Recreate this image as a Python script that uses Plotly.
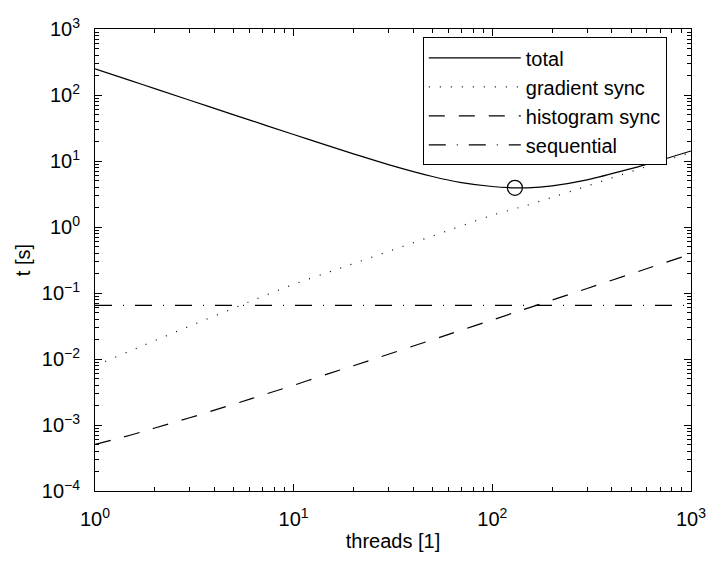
import plotly.graph_objects as go

threads = [1, 1.5, 2, 3, 5, 7, 10, 15, 20, 30, 50, 70, 100, 130, 150, 200, 300, 500, 700, 1000]
t_total = [250.1, 166.8, 125.1, 83.43, 50.13, 35.87, 25.2, 16.95, 12.85, 8.83, 5.82, 4.71, 4.11, 3.93, 3.93, 4.21, 5.19, 7.68, 10.25, 14.2]
t_gradient = [0.0079, 0.0132, 0.019, 0.0316, 0.059, 0.089, 0.135, 0.207, 0.279, 0.427, 0.731, 1.04, 1.51, 1.89, 2.14, 2.82, 4.17, 6.92, 9.55, 13.5]
t_histogram = [5.1e-4, 7.0e-4, 9.0e-4, 1.29e-3, 2.07e-3, 2.85e-3, 4.0e-3, 6.0e-3, 7.9e-3, 0.0118, 0.0196, 0.0274, 0.039, 0.0508, 0.0586, 0.078, 0.117, 0.195, 0.273, 0.39]
t_sequential = [0.065] * len(threads)

names = ["total", "gradient sync", "histogram sync", "sequential"]

x_exps = [0, 1, 2, 3]
y_exps = [-4, -3, -2, -1, 0, 1, 2, 3]

imin = min(range(len(t_total)), key=lambda i: t_total[i])

def power_labels(exps):
    return ["10<sup>%s</sup>" % (str(e).replace("-", "\u2212")) for e in exps]

font = "Liberation Sans, Arial, Helvetica, sans-serif"
fig = go.Figure()
fig.add_trace(go.Scatter(x=threads, y=t_total, mode="lines", name=names[0],
                         line=dict(color="black", width=1.2, shape="spline")))
fig.add_trace(go.Scatter(x=threads, y=t_gradient, mode="lines", name=names[1],
                         line=dict(color="black", width=1.2, dash="1px,10px", shape="spline")))
fig.add_trace(go.Scatter(x=threads, y=t_histogram, mode="lines", name=names[2],
                         line=dict(color="black", width=1.2, dash="16px,14px", shape="spline")))
fig.add_trace(go.Scatter(x=threads, y=t_sequential, mode="lines", name=names[3],
                         line=dict(color="black", width=1.2, dash="17px,11px,1px,11px")))
fig.add_trace(go.Scatter(x=[threads[imin]], y=[t_total[imin]], mode="markers", showlegend=False,
                         marker=dict(symbol="circle-open", size=15, color="black", line=dict(width=1.2))))

axis_common = dict(
    type="log", showgrid=False, zeroline=False, showline=True, linecolor="black", linewidth=1,
    ticks="inside", ticklen=7, tickcolor="black", mirror="ticks", ticklabeloverflow="allow",
    automargin=False,
    tickfont=dict(size=20, color="black", family=font),
    minor=dict(ticks="inside", ticklen=4, tickcolor="black", dtick="D1", showgrid=False),
)
fig.update_layout(
    width=706, height=562,
    margin=dict(l=95, r=15, t=29, b=71),
    paper_bgcolor="white", plot_bgcolor="white",
    font=dict(family=font, color="black", size=20),
    xaxis=dict(range=[0, 3.0004], tickmode="array", tickvals=[10 ** e for e in x_exps],
               ticktext=power_labels(x_exps), ticklabelstandoff=10,
               title=dict(text="threads [1]", font=dict(size=20), standoff=4), **axis_common),
    yaxis=dict(range=[-4, 3.0004], tickmode="array", tickvals=[10 ** e for e in y_exps],
               ticktext=power_labels(y_exps), ticklabelstandoff=10,
               title=dict(text="t [s]", font=dict(size=20), standoff=5), **axis_common),
    legend=dict(x=0.55, y=0.982, xanchor="left", yanchor="top", bgcolor="white",
                bordercolor="black", borderwidth=1, font=dict(size=20, color="black", family=font),
                itemwidth=92, tracegroupgap=0),
    showlegend=True,
)
fig.write_html("out.html")
